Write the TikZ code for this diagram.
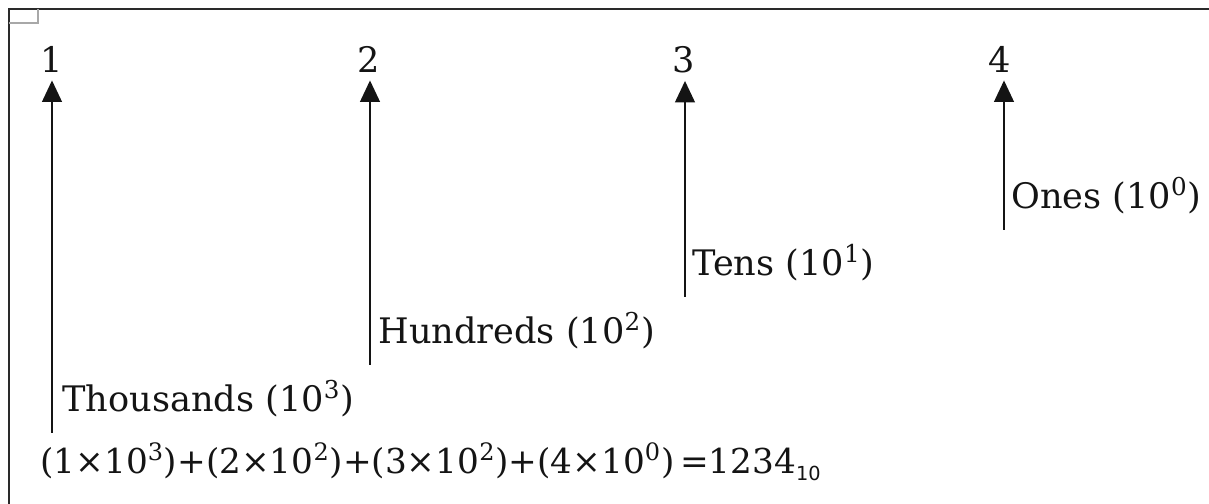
\documentclass[tikz,border=0pt]{standalone}
\usepackage{fontspec}
\setmainfont{DejaVu Serif}
\newfontfamily\subfont{DejaVu Sans}
\usetikzlibrary{arrows.meta,calc}
\definecolor{cInk}{HTML}{141414}
\definecolor{cFrame}{HTML}{2A2A2A}
\definecolor{cMark}{HTML}{A8A8A8}

\begin{document}
\begin{tikzpicture}[
  digit/.style={font=\fontsize{20}{24}\selectfont, text=cInk, inner sep=1pt, anchor=base},
  lbl/.style={font=\fontsize{20}{24}\selectfont, text=cInk, inner sep=0pt, anchor=base west},
  eqn/.style={font=\fontsize{19.5}{24}\selectfont, text=cInk, inner sep=0pt, anchor=base west},
  place/.style={-{Triangle[length=4.3mm,width=3.9mm]}, line width=1.5pt, draw=cInk,
                shorten >=3pt},
]
\useasboundingbox (0,0) rectangle (24.18,10.08);

% ---------------- frame ----------------
\draw[draw=cFrame, line width=.8pt] (0.18,0) -- (0.18,9.90) -- (24.18,9.90);
\draw[draw=cMark, line width=.6pt] (0.18,9.62) -- (0.76,9.62) -- (0.76,9.90);

% ---------------- digits of 1234 ----------------
\node[digit] (d1) at (1.04,8.62) {1};
\node[digit] (d2) at (7.38,8.62) {2};
\node[digit] (d3) at (13.68,8.62) {3};
\node[digit] (d4) at (20.00,8.62) {4};

% ---------------- place value arrows ----------------
\coordinate (b1) at (1.04,1.42);
\coordinate (b2) at (7.40,2.78);
\coordinate (b3) at (13.70,4.14);
\coordinate (b4) at (20.08,5.48);

\draw[place] (b1) -- (b1 |- d1.south);
\draw[place] (b2) -- (b2 |- d2.south);
\draw[place] (b3) -- (b3 |- d3.south);
\draw[place] (b4) -- (b4 |- d4.south);

\node[lbl] (lThou) at ($(b1)+(0.20,0.42)$) {Thousands (10\textsuperscript{3})};
\node[lbl] (lHund) at ($(b2)+(0.16,0.42)$) {Hundreds (10\textsuperscript{2})};
\node[lbl] (lTens) at ($(b3)+(0.14,0.42)$) {Tens (10\textsuperscript{1})};
\node[lbl] (lOnes) at ($(b4)+(0.14,0.42)$) {Ones (10\textsuperscript{0})};

% ---------------- expanded form ----------------
\node[eqn] (sum) at (0.80,0.61)
  {(1×10\textsuperscript{3})+(2×10\textsuperscript{2})+(3×10\textsuperscript{2})+(4×10\textsuperscript{0})\,=1234\raisebox{-4pt}{\subfont\fontsize{11}{12}\selectfont 10}};

\end{tikzpicture}
\end{document}
